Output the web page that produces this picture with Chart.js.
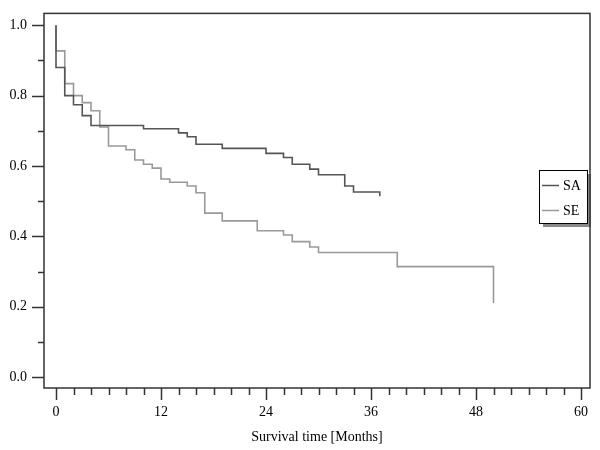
<!DOCTYPE html>
<html>
<head>
<meta charset="utf-8">
<script src="https://cdn.jsdelivr.net/npm/chart.js@4.4.1/dist/chart.umd.min.js"></script>
<style>
html,body{margin:0;padding:0;background:#fff;}
#wrap{width:600px;height:450px;}
</style>
</head>
<body>
<div id="wrap"><canvas id="c" width="600" height="450"></canvas></div>
<script>
// ---- data ----
const seriesNames = ["SA", "SE"];
const saTimes  = [0, 0, 1, 2, 3, 4, 10, 14, 15, 16, 19, 24, 26, 27, 29, 30, 33, 34, 37, 37];
const saValues = [1.0, 0.88, 0.80, 0.774, 0.743, 0.715, 0.706, 0.694, 0.683, 0.662, 0.650, 0.636, 0.624, 0.605, 0.591, 0.575, 0.543, 0.526, 0.526, 0.514];
const seTimes  = [0, 0, 1, 2, 3, 4, 5, 6, 8, 9, 10, 11, 12, 13, 15, 16, 17, 19, 23, 26, 27, 29, 30, 39, 50, 50];
const seValues = [1.0, 0.927, 0.834, 0.80, 0.78, 0.757, 0.711, 0.657, 0.646, 0.617, 0.605, 0.594, 0.563, 0.554, 0.543, 0.524, 0.466, 0.444, 0.416, 0.404, 0.385, 0.370, 0.354, 0.314, 0.314, 0.211];
const xMajorTicks = [0, 12, 24, 36, 48, 60];
const xMinorTicks = [2, 4, 6, 8, 10, 14, 16, 18, 20, 22, 26, 28, 30, 32, 34, 38, 40, 42, 44, 46, 50, 52, 54, 56, 58];
const yMajorTicks = [0.0, 0.2, 0.4, 0.6, 0.8, 1.0];
const yMinorTicks = [0.1, 0.3, 0.5, 0.7, 0.9];
const xTitle = "Survival time [Months]";

const toPts = (ts, vs) => ts.map((t, i) => ({x: t, y: vs[i]}));
const seriesColors = ["#555555", "#999999"];

Chart.defaults.font.family = '"Liberation Serif", "DejaVu Serif", serif';
Chart.defaults.font.size = 14;
Chart.defaults.color = "#000";

const frame = {
  id: "frame",
  afterDraw(chart) {
    const ctx = chart.ctx, a = chart.chartArea;
    const xs = chart.scales.x, ys = chart.scales.y;
    ctx.save();

    // legend box inside the plot area
    const bx = 539, by = 170, bw = 48, bh = 53;
    ctx.fillStyle = "#8a8a8a";
    ctx.fillRect(bx + 4, by + 4, bw, bh);
    ctx.fillStyle = "#fff";
    ctx.fillRect(bx, by, bw, bh);
    ctx.lineWidth = 1;
    ctx.strokeStyle = "#000";
    ctx.strokeRect(bx + 0.5, by + 0.5, bw, bh);
    ctx.font = '14px "Liberation Serif", serif';
    ctx.textBaseline = "middle";
    chart.data.datasets.forEach((ds, i) => {
      const yy = by + 15 + i * 25;
      ctx.strokeStyle = ds.borderColor;
      ctx.lineWidth = 1.5;
      ctx.beginPath();
      ctx.moveTo(bx + 3, yy + 0.5); ctx.lineTo(bx + 20, yy + 0.5);
      ctx.stroke();
      ctx.fillStyle = "#000";
      ctx.fillText(ds.label, bx + 24, yy + 1);
    });

    ctx.strokeStyle = "#333";
    ctx.lineWidth = 1.5;
    ctx.strokeRect(a.left, a.top, a.right - a.left, a.bottom - a.top);
    ctx.beginPath();
    yMajorTicks.forEach(v => { const p = Math.round(ys.getPixelForValue(v)) + 0.5; ctx.moveTo(a.left - 12, p); ctx.lineTo(a.left, p); });
    yMinorTicks.forEach(v => { const p = Math.round(ys.getPixelForValue(v)) + 0.5; ctx.moveTo(a.left - 6, p); ctx.lineTo(a.left, p); });
    xMajorTicks.forEach(v => { const p = Math.round(xs.getPixelForValue(v)) + 0.5; ctx.moveTo(p, a.bottom); ctx.lineTo(p, a.bottom + 12); });
    xMinorTicks.forEach(v => { const p = Math.round(xs.getPixelForValue(v)) + 0.5; ctx.moveTo(p, a.bottom); ctx.lineTo(p, a.bottom + 7); });
    ctx.stroke();
    ctx.restore();
  }
};

new Chart(document.getElementById("c"), {
  type: "line",
  data: {
    datasets: [
      {label: seriesNames[0], data: toPts(saTimes, saValues), borderColor: seriesColors[0]},
      {label: seriesNames[1], data: toPts(seTimes, seValues), borderColor: seriesColors[1]}
    ].map(d => Object.assign(d, {stepped: "before", borderWidth: 1.6, pointRadius: 0, fill: false, tension: 0}))
  },
  options: {
    responsive: false,
    animation: false,
    layout: {padding: {top: 8, right: 10, left: 0, bottom: 0}},
    plugins: {legend: {display: false}, tooltip: {enabled: false}},
    scales: {
      x: {
        type: "linear",
        min: -12 / 8.75,
        max: 60 + 9 / 8.75,
        afterBuildTicks: s => { s.ticks = xMajorTicks.map(v => ({value: v})); },
        afterFit: s => { s.height = 62; },
        grid: {display: true, drawOnChartArea: false, drawTicks: true, tickLength: 12, color: "rgba(0,0,0,0)"},
        border: {display: false},
        ticks: {padding: 4, maxRotation: 0, autoSkip: false, callback: v => String(v)},
        title: {display: true, text: xTitle, padding: {top: 0, bottom: 4}}
      },
      y: {
        type: "linear",
        min: -11 / 357,
        max: 1 + 12 / 357,
        afterBuildTicks: s => { s.ticks = yMajorTicks.map(v => ({value: v})); },
        afterFit: s => { s.width = 44; },
        grid: {display: true, drawOnChartArea: false, drawTicks: true, tickLength: 12, color: "rgba(0,0,0,0)"},
        border: {display: false},
        ticks: {padding: 5, autoSkip: false, callback: v => Number(v).toFixed(1)}
      }
    }
  },
  plugins: [frame]
});
</script>
</body>
</html>
